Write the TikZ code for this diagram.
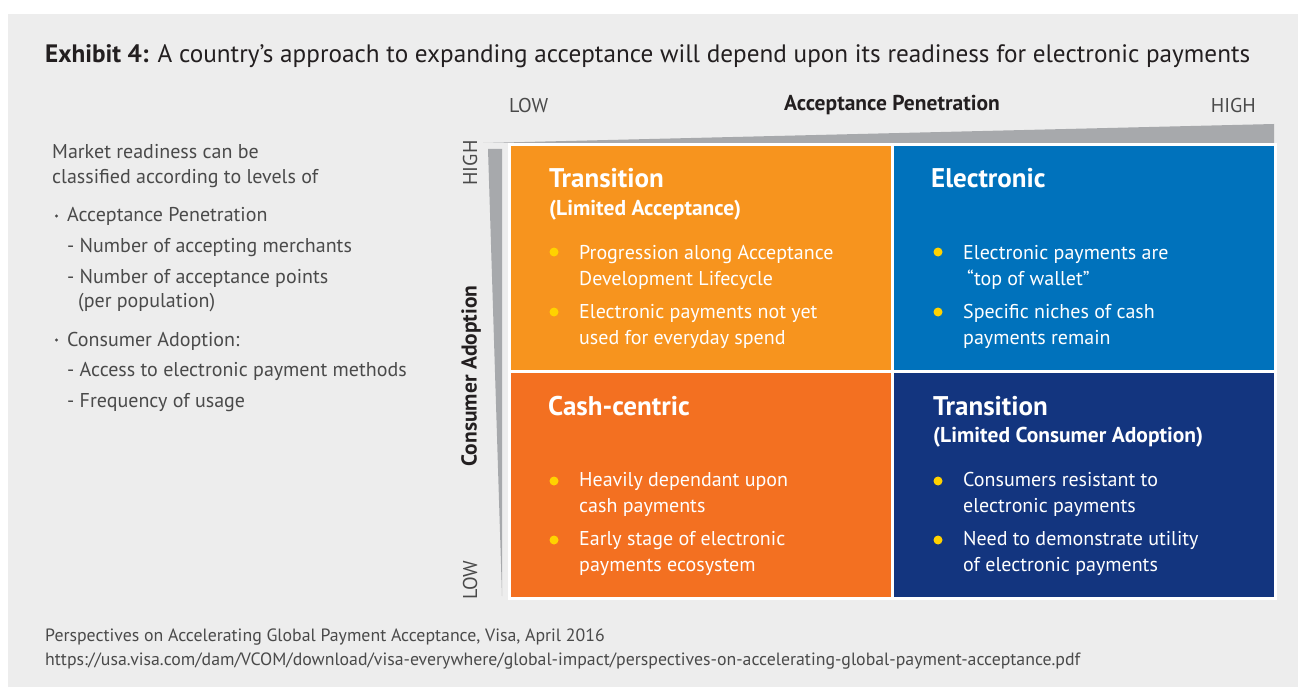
\documentclass[tikz,border=0pt]{standalone}
\usepackage{fontspec}
\setmainfont{PT Sans}
\definecolor{bggray}{HTML}{EDEDED}
\definecolor{wedge}{HTML}{A7A9AC}
\definecolor{txtgray}{HTML}{4A4A4A}
\definecolor{titlegray}{HTML}{231F20}
\definecolor{qorange}{HTML}{F7941E}
\definecolor{qorangedk}{HTML}{F37021}
\definecolor{qblue}{HTML}{0072BC}
\definecolor{qnavy}{HTML}{13357F}
\definecolor{dotyellow}{HTML}{FFD200}
\tikzset{
  lbl/.style={anchor=base west, inner sep=0, text=txtgray, font=\fontsize{20}{25}\selectfont},
  smalldot/.style={circle, fill=txtgray, inner sep=0, minimum size=3.4pt},
  axlbl/.style={inner sep=0, text=txtgray, font=\fontsize{20}{23}\selectfont},
  axbold/.style={inner sep=0, text=titlegray, font=\bfseries\fontsize{21.5}{25}\selectfont},
  qtitle/.style={anchor=base west, inner sep=0, text=white, font=\bfseries\fontsize{27}{30}\selectfont},
  qsub/.style={anchor=base west, inner sep=0, text=white, font=\bfseries\fontsize{21.5}{24}\selectfont},
  qtext/.style={anchor=base west, inner sep=0, text=white, align=left, font=\fontsize{20}{25.5}\selectfont},
  ydot/.style={circle, fill=dotyellow, inner sep=0, minimum size=9pt},
  foot/.style={anchor=base west, inner sep=0, text=txtgray, font=\fontsize{17.8}{20}\selectfont}
}
\begin{document}
\begin{tikzpicture}[x=1pt,y=-1pt]
\path[use as bounding box, fill=white] (0,0) rectangle (1298,687);
\fill[bggray] (8,14) rectangle (1298,687);

% title
\node[anchor=base west, inner sep=0, text=titlegray, font=\fontsize{25.2}{30}\selectfont] (title) at (45,63)
  {\textbf{Exhibit 4:} A country’s approach to expanding acceptance will depend upon its readiness for electronic payments};

% left description
\node[lbl] (l1) at (52,159) {Market readiness can be};
\node[lbl] (l2) at (52,184) {classified according to levels of};
\node[smalldot] (b1) at (56.5,216) {};
\node[lbl] (l3) at (67,222) {Acceptance Penetration};
\node[lbl] (l4) at (67,252) {- Number of accepting merchants};
\node[lbl] (l5) at (67,283) {- Number of acceptance points};
\node[lbl] (l6) at (78,307) {(per population)};
\node[smalldot] (b2) at (56.5,340) {};
\node[lbl] (l7) at (67,346) {Consumer Adoption:};
\node[lbl] (l8) at (67,376) {- Access to electronic payment methods};
\node[lbl] (l9) at (67,407) {- Frequency of usage};

% axes wedges
\fill[wedge] (483,143) -- (1274,124) -- (1274,143) -- cycle;
\fill[wedge] (488,149) -- (502,149) -- (502,596) -- cycle;

% axis labels
\node[axlbl, anchor=base west] (xlow) at (509,113) {LOW};
\node[axbold, anchor=base] (xname) at (892,111) {Acceptance Penetration};
\node[axlbl, anchor=base east] (xhigh) at (1256,113) {HIGH};
\node[axlbl, rotate=90] (yhigh) at (470,163) {HIGH};
\node[axbold, rotate=90] (yname) at (471,376) {Consumer Adoption};
\node[axlbl, rotate=90] (ylow) at (470,580) {LOW};

% quadrant frame
\fill[white] (508,143) rectangle (1277,600);
\fill[qorange] (511,146) rectangle (891,370);
\fill[qblue] (894,146) rectangle (1274,370);
\fill[qorangedk] (511,373) rectangle (891,597);
\fill[qnavy] (894,373) rectangle (1274,597);

% top-left
\node[qtitle] (tlt) at (549,188) {Transition};
\node[qsub] (tls) at (549,215) {(Limited Acceptance)};
\node[ydot] (tld1) at (554,252) {};
\node[qtext] (tlx1) at (579,285) {Progression along Acceptance\\Development Lifecycle};
\node[ydot] (tld2) at (554,312) {};
\node[qtext] (tlx2) at (579,344) {Electronic payments not yet\\used for everyday spend};

% top-right
\node[qtitle] (trt) at (931,188) {Electronic};
\node[ydot] (trd1) at (938,252) {};
\node[qtext] (trx1) at (963,285) {Electronic payments are\\\hspace*{4pt}“top of wallet”};
\node[ydot] (trd2) at (938,312) {};
\node[qtext] (trx2) at (963,344) {Specific niches of cash\\payments remain};

% bottom-left
\node[qtitle] (blt) at (548,415) {Cash-centric};
\node[ydot] (bld1) at (554,481) {};
\node[qtext] (blx1) at (579,512) {Heavily dependant upon\\cash payments};
\node[ydot] (bld2) at (554,540) {};
\node[qtext] (blx2) at (579,571) {Early stage of electronic\\payments ecosystem};

% bottom-right
\node[qtitle] (brt) at (933,415) {Transition};
\node[qsub] (brs) at (933,442) {(Limited Consumer Adoption)};
\node[ydot] (brd1) at (938,481) {};
\node[qtext] (brx1) at (963,512) {Consumers resistant to\\electronic payments};
\node[ydot] (brd2) at (938,540) {};
\node[qtext] (brx2) at (963,571) {Need to demonstrate utility\\of electronic payments};

% footer
\node[foot] (f1) at (45,641) {Perspectives on Accelerating Global Payment Acceptance, Visa, April 2016};
\node[foot] (f2) at (45,665) {https://usa.visa.com/dam/VCOM/download/visa-everywhere/global-impact/perspectives-on-accelerating-global-payment-acceptance.pdf};
\end{tikzpicture}
\end{document}
